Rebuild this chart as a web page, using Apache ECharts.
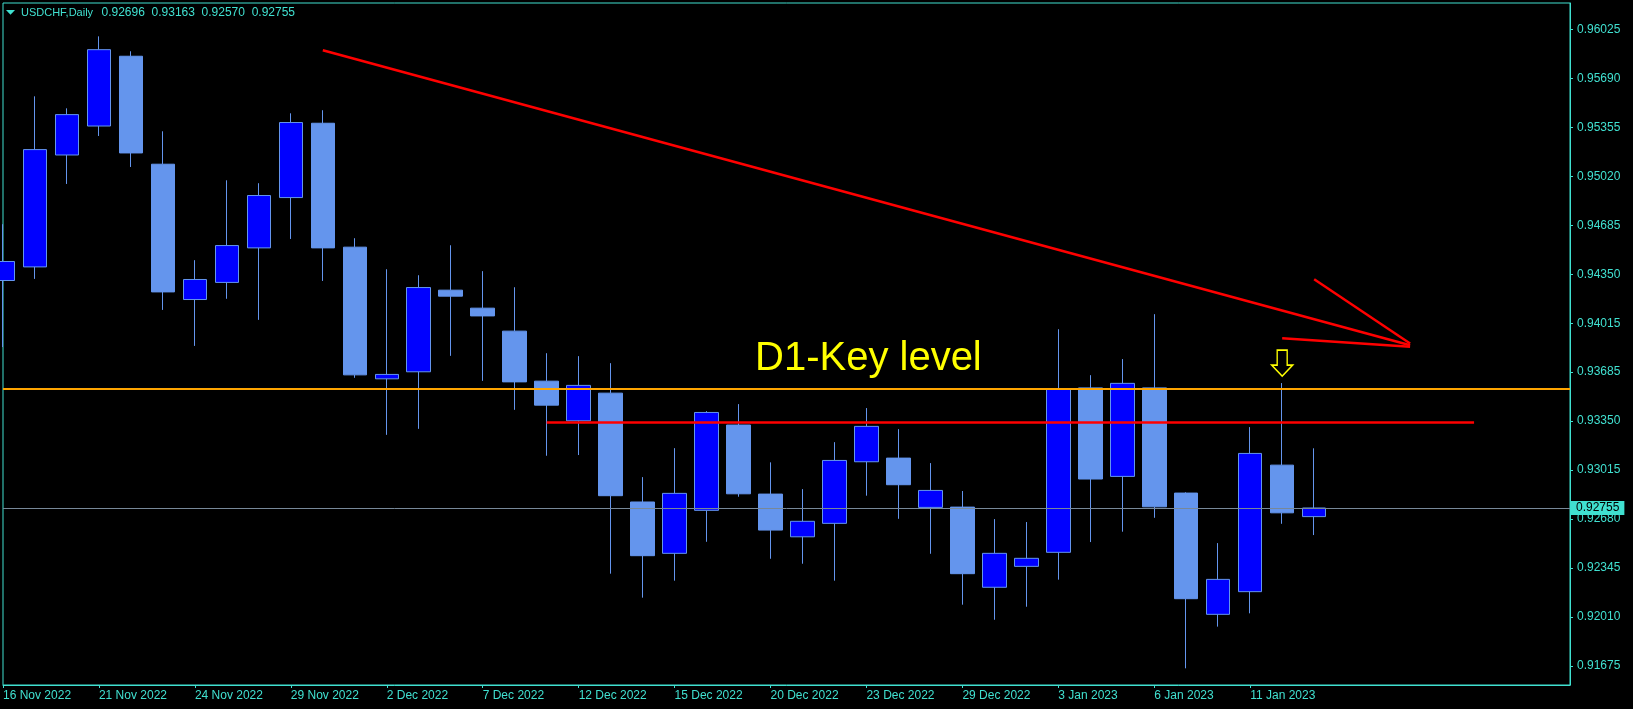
<!DOCTYPE html>
<html>
<head>
<meta charset="utf-8">
<script src="https://cdn.jsdelivr.net/npm/echarts@6/dist/echarts.min.js"></script>
<style>
html,body{margin:0;padding:0;background:#000;}
#chart{width:1633px;height:709px;}
</style>
</head>
<body>
<div id="chart"></div>
<script>
// ---------------- DATA ----------------
const symbolName = 'USDCHF';
const periodName = 'Daily';

const dates = [
  '16 Nov 2022','17 Nov 2022','18 Nov 2022','21 Nov 2022','22 Nov 2022','23 Nov 2022','24 Nov 2022','25 Nov 2022',
  '28 Nov 2022','29 Nov 2022','30 Nov 2022','1 Dec 2022','2 Dec 2022','5 Dec 2022','6 Dec 2022','7 Dec 2022',
  '8 Dec 2022','9 Dec 2022','12 Dec 2022','13 Dec 2022','14 Dec 2022','15 Dec 2022','16 Dec 2022','19 Dec 2022',
  '20 Dec 2022','21 Dec 2022','22 Dec 2022','23 Dec 2022','27 Dec 2022','28 Dec 2022','29 Dec 2022','30 Dec 2022',
  '2 Jan 2023','3 Jan 2023','4 Jan 2023','5 Jan 2023','6 Jan 2023','9 Jan 2023','10 Jan 2023','11 Jan 2023',
  '12 Jan 2023','13 Jan 2023'
];

const opens = [
  0.94310,0.94403,0.95168,0.95366,0.95843,0.95105,0.94180,0.94297,
  0.94533,0.94877,0.95385,0.94538,0.93638,0.93686,0.94244,0.94121,
  0.93964,0.93622,0.93351,0.93540,0.92796,0.92445,0.92739,0.93322,
  0.92850,0.92558,0.92650,0.93071,0.93096,0.92759,0.92761,0.92213,
  0.92356,0.92452,0.93576,0.92971,0.93576,0.92857,0.92028,0.92183,
  0.93048,0.92696
];
const highs = [
  0.94695,0.95569,0.95487,0.95979,0.95877,0.95330,0.94449,0.94995,
  0.94975,0.95453,0.95474,0.94599,0.94387,0.94346,0.94551,0.94374,
  0.94264,0.93813,0.93793,0.93745,0.92966,0.93164,0.93417,0.93465,
  0.93067,0.92884,0.93205,0.93438,0.93294,0.93062,0.92871,0.92679,
  0.92659,0.93977,0.93663,0.93773,0.94080,0.92862,0.92515,0.93308,
  0.93609,0.93163
];
const lows = [
  0.93855,0.94321,0.94970,0.95298,0.95086,0.94109,0.93863,0.94185,
  0.94041,0.94594,0.94307,0.93645,0.93255,0.93296,0.93795,0.93624,
  0.93426,0.93112,0.93117,0.92306,0.92142,0.92258,0.92524,0.92832,
  0.92408,0.92374,0.92258,0.92839,0.92681,0.92442,0.92094,0.91991,
  0.92080,0.92265,0.92522,0.92593,0.92688,0.91659,0.91944,0.92035,
  0.92647,0.92570
];
const closes = [
  0.94440,0.95205,0.95444,0.95888,0.95182,0.94232,0.94317,0.94549,
  0.94891,0.95390,0.94533,0.93665,0.93668,0.94262,0.94203,0.94068,
  0.93617,0.93458,0.93593,0.92839,0.92429,0.92855,0.93408,0.92852,
  0.92604,0.92664,0.93080,0.93313,0.92914,0.92875,0.92306,0.92445,
  0.92411,0.93566,0.92953,0.93607,0.92763,0.92135,0.92267,0.93128,
  0.92722,0.92755
];

const yTickValues = [0.91675,0.92010,0.92345,0.92680,0.93015,0.93350,0.93685,0.94015,0.94350,0.94685,0.95020,0.95355,0.95690,0.96025];
const yRange = [0.91545, 0.96207];

const bidPrice = 0.92755;
const keyLevelPrice = 0.93572;
const keyLevelText = 'D1-Key level';
const resistanceLine = [[17, 0.93340], [46, 0.93340]];
const trendLine = [[10, 0.95884], [44, 0.93868]];
const arrowLineA = [[41, 0.94319], [44, 0.93880]];
const arrowLineB = [[40, 0.93916], [44, 0.93857]];
const downArrowAt = [40, 0.93745];

// ---------------- CHART ----------------
const CYAN = '#40E0D0';
const FONT = "'Liberation Sans', Arial, sans-serif";
const SLOT_COUNT = 50;
const categories = dates.slice();
for (let i = dates.length; i < SLOT_COUNT; i++) categories.push('slot' + i);
const showIdx = (i) => i % 3 === 0 && i < dates.length;

const candleData = dates.map((d, i) => [opens[i], closes[i], lows[i], highs[i]]);
const last = dates.length - 1;
const fmt = (v) => v.toFixed(5);

const redStyle = {color: '#FF0000', width: 2.5, type: 'solid'};
const seg = (pts, style) => [
  {coord: pts[0], lineStyle: style},
  {coord: pts[1]}
];

const chart = echarts.init(document.getElementById('chart'), null, {renderer: 'canvas'});
chart.setOption({
  backgroundColor: '#000000',
  animation: false,
  grid: {left: 3, right: 63, top: 3, bottom: 24, show: true, borderColor: CYAN, borderWidth: 1, backgroundColor: 'transparent'},
  xAxis: {
    type: 'category',
    data: categories,
    boundaryGap: false,
    axisLine: {show: true, lineStyle: {color: CYAN, width: 1}},
    axisTick: {show: true, interval: showIdx, length: 3, lineStyle: {color: CYAN}},
    axisLabel: {interval: showIdx, align: 'left', color: CYAN, fontSize: 12, fontFamily: FONT, margin: 5},
    splitLine: {show: false}
  },
  yAxis: {
    type: 'value',
    position: 'right',
    min: yRange[0],
    max: yRange[1],
    axisLine: {show: true, lineStyle: {color: CYAN, width: 1}},
    axisTick: {show: true, customValues: yTickValues, length: 3, lineStyle: {color: CYAN}},
    axisLabel: {customValues: yTickValues, formatter: (v) => fmt(v), color: CYAN, fontSize: 12, fontFamily: FONT, margin: 7},
    splitLine: {show: false}
  },
  series: [{
    type: 'candlestick',
    data: candleData,
    barWidth: 24,
    itemStyle: {color: '#0000FF', color0: '#6495ED', borderColor: '#6495ED', borderColor0: '#6495ED', borderWidth: 1},
    markLine: {
      silent: true,
      precision: 5,
      symbol: ['none', 'none'],
      label: {show: false},
      data: [
        {yAxis: bidPrice, lineStyle: {color: '#778899', width: 1, type: 'solid'},
          label: {show: true, position: 'end', formatter: fmt(bidPrice), color: '#000', backgroundColor: CYAN,
            padding: [1, 5, 1, 5], fontSize: 12, fontFamily: FONT, distance: 1}},
        {yAxis: keyLevelPrice, lineStyle: {color: '#FFA500', width: 2, type: 'solid'}},
        seg(resistanceLine, redStyle),
        seg(trendLine, redStyle),
        seg(arrowLineA, redStyle),
        seg(arrowLineB, redStyle)
      ]
    },
    markPoint: {
      silent: true,
      precision: 5,
      data: [{
        coord: downArrowAt,
        symbol: 'path://M5.5 0L15.5 0L15.5 15L21 15L10.5 26L0 15L5.5 15Z',
        symbolSize: [21, 26],
        itemStyle: {color: '#000', borderColor: '#FFFF00', borderWidth: 1.5},
        label: {show: false}
      }]
    }
  }],
  graphic: [
    {type: 'polygon', shape: {points: [[6, 10], [15, 10], [10.5, 14.7]]}, style: {fill: CYAN}, silent: true},
    {type: 'text', x: 21, y: 12.5, style: {text: symbolName + ',' + periodName, fill: CYAN, font: '11px ' + FONT, verticalAlign: 'middle'}, silent: true},
    {type: 'text', x: 101.5, y: 12.5, style: {text: [opens[last], highs[last], lows[last], closes[last]].map(fmt).join('  '), fill: CYAN, font: '12px ' + FONT, verticalAlign: 'middle'}, silent: true},
    {type: 'text', x: 755, y: 358.5, style: {text: keyLevelText, fill: '#FFFF00', font: '40px ' + FONT, verticalAlign: 'middle'}, silent: true}
  ]
});
</script>
</body>
</html>
